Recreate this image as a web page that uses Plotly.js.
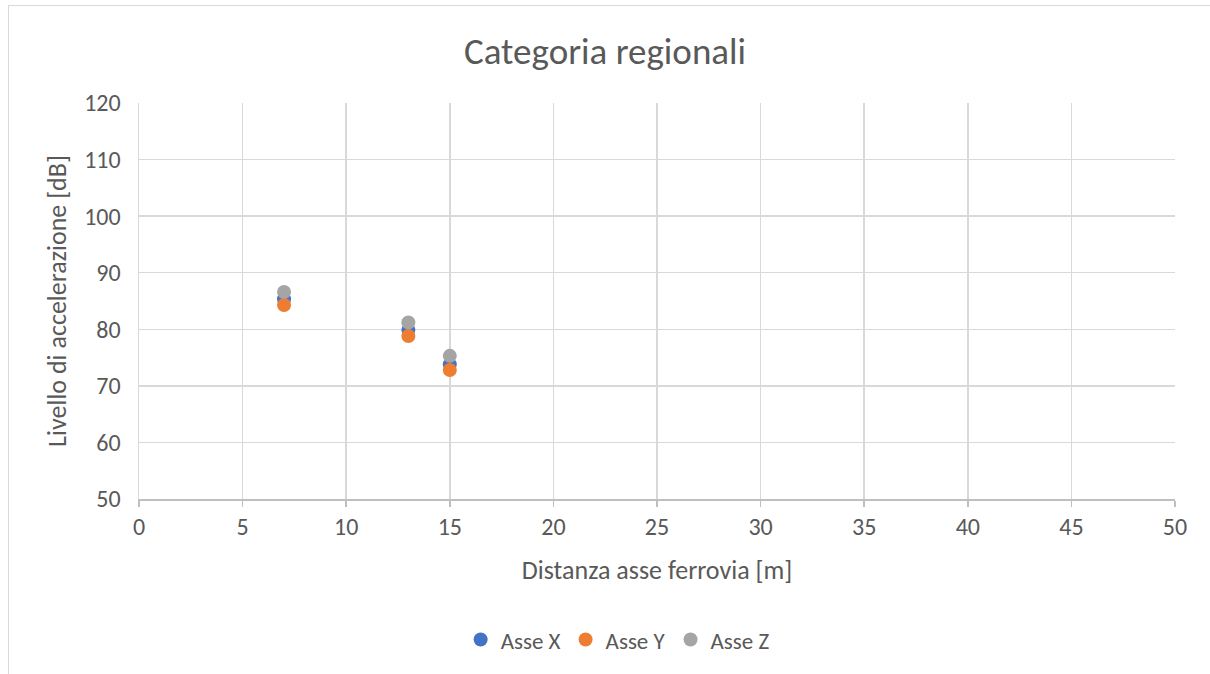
<!DOCTYPE html>
<html>
<head>
<meta charset="utf-8">
<script src="https://cdn.plot.ly/plotly-3.0.1.min.js"></script>
<style>
html,body{margin:0;padding:0;background:#fff;overflow:hidden;}
#frame{position:absolute;left:8px;top:5px;width:1300px;height:700px;border-left:1.5px solid #d9d9d9;border-top:1.5px solid #d9d9d9;pointer-events:none;z-index:5;}
#chart{position:absolute;left:0;top:0;width:1210px;height:674px;}
</style>
</head>
<body>
<div id="chart"></div>
<div id="frame"></div>
<script>
const distances = [7, 13, 15];
const asseX = [85.3, 79.9, 73.8];
const asseY = [84.3, 78.8, 72.8];
const asseZ = [86.6, 81.2, 75.3];
const seriesNames = ["Asse X", "Asse Y", "Asse Z"];
const colors = ["#4472c4", "#ed7d31", "#a5a5a5"];
const xTicks = [0,5,10,15,20,25,30,35,40,45,50];
const yTicks = [50,60,70,80,90,100,110,120];

const font = "Calibri, Carlito, 'Noto Sans', 'Open Sans', sans-serif";
const traces = [asseX, asseY, asseZ].map((ys, i) => ({
  x: distances, y: ys, name: seriesNames[i], type: "scatter", mode: "markers",
  marker: {color: colors[i], size: 14}
}));

const layout = {
  width: 1210, height: 674,
  margin: {l: 139, r: 35, t: 103, b: 175},
  paper_bgcolor: "#fff", plot_bgcolor: "#fff",
  font: {family: font, color: "#595959", size: 24},
  title: {text: "Categoria regionali", x: 0.5, xanchor: "center", y: 0.925, yanchor: "middle",
          font: {family: font, size: 37, color: "#595959"}},
  xaxis: {
    range: [0, 50], tickvals: xTicks, ticktext: xTicks.map(String),
    showgrid: true, gridcolor: "#d9d9d9", gridwidth: 1.5,
    showline: true, linecolor: "#bfbfbf", linewidth: 1.5,
    ticks: "outside", ticklen: 6, tickcolor: "#bfbfbf", tickwidth: 1.5,
    zeroline: false, tickfont: {size: 24, color: "#595959"},
    title: {text: "Distanza asse ferrovia [m]", font: {size: 26, color: "#595959"}, standoff: 20}
  },
  yaxis: {
    range: [50, 120], tickvals: yTicks, ticktext: yTicks.map(String),
    showgrid: true, gridcolor: "#d9d9d9", gridwidth: 1.5,
    showline: true, linecolor: "#d9d9d9", linewidth: 1.5,
    ticks: "outside", ticklen: 12, tickcolor: "rgba(0,0,0,0)", zeroline: false,
    tickfont: {size: 24, color: "#595959"},
    title: {text: "Livello di accelerazione [dB]", font: {size: 26, color: "#595959"}, standoff: 10}
  },
  showlegend: true,
  legend: {orientation: "h", x: 0.462, xanchor: "center", y: -0.355, yanchor: "middle",
           font: {size: 23, color: "#595959"}, itemwidth: 30, tracegroupgap: 0}
};

Plotly.newPlot("chart", traces, layout, {displayModeBar: false, staticPlot: true});
</script>
</body>
</html>
